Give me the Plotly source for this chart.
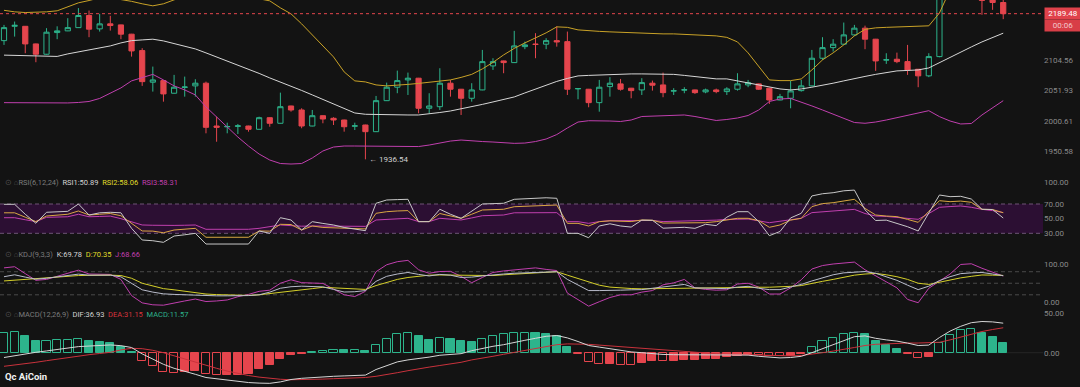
import numpy as np
import plotly.graph_objects as go

# ---------------- data ----------------
open_ = [2140.3, 2166.3, 2166.3, 2134.4, 2115.9, 2154.9, 2158.0, 2163.9, 2186.1, 2161.6,
         2170.8, 2168.9, 2152.0, 2122.4, 2066.6, 2069.4, 2047.5, 2057.5, 2060.2, 2064.9,
         1991.7, 1990.3, 1991.2, 1991.7, 1986.2, 2005.7, 1996.3, 2025.6, 2018.8, 1991.7,
         2009.1, 2004.7, 2001.8, 1991.4, 1993.4, 1982.2, 2034.7, 2057.9, 2070.6, 2073.6,
         2021.7, 2024.4, 2064.9, 2054.4, 2038.8, 2053.2, 2095.2, 2104.0, 2101.0, 2129.5,
         2134.1, 2133.9, 2140.3, 2138.5, 2055.0, 2054.4, 2031.3, 2058.9, 2063.7, 2056.2,
         2053.2, 2064.9, 2061.9, 2051.2, 2052.9, 2053.2, 2049.8, 2053.2, 2050.3, 2054.4,
         2061.9, 2063.7, 2056.2, 2035.9, 2038.8, 2052.0, 2060.2, 2108.8, 2127.7, 2133.9,
         2150.7, 2162.9, 2142.9, 2105.5, 2107.0, 2102.8, 2089.3, 2077.7, 2111.7, 2245.0,
         2256.0, 2243.0, 2229.0, 2218.0, 2210.2]
high = [2168.9, 2175.0, 2166.8, 2135.0, 2162.9, 2166.3, 2181.2, 2199.8, 2195.3, 2189.2,
        2185.5, 2169.3, 2152.5, 2126.7, 2094.0, 2070.0, 2079.4, 2076.4, 2071.8, 2067.6,
        2007.4, 1997.3, 1995.1, 1992.2, 2007.4, 2006.2, 2048.5, 2026.1, 2021.7, 2018.8,
        2009.6, 2006.5, 2002.3, 1997.3, 1993.9, 2042.8, 2065.9, 2086.9, 2083.4, 2074.1,
        2047.5, 2091.1, 2070.6, 2054.9, 2064.9, 2123.6, 2108.8, 2104.5, 2158.0, 2138.5,
        2153.8, 2144.7, 2166.3, 2156.7, 2056.0, 2054.9, 2070.6, 2075.4, 2072.3, 2056.7,
        2073.6, 2069.4, 2083.4, 2056.2, 2057.9, 2053.7, 2055.5, 2055.5, 2057.9, 2082.3,
        2070.6, 2064.2, 2056.7, 2046.3, 2068.9, 2070.6, 2123.6, 2146.5, 2142.9, 2173.2,
        2168.9, 2167.5, 2143.4, 2117.7, 2118.8, 2132.6, 2089.8, 2117.7, 2252.0, 2270.0,
        2274.0, 2258.0, 2236.0, 2226.0, 2216.0]
low = [2132.6, 2147.6, 2117.7, 2101.7, 2115.0, 2142.9, 2157.5, 2163.5, 2146.5, 2156.7,
       2158.5, 2142.9, 2111.7, 2060.2, 2050.3, 2033.0, 2047.0, 2041.6, 2041.6, 1979.5,
       1965.5, 1979.5, 1978.3, 1982.2, 1985.8, 1990.5, 1995.8, 2015.9, 1987.9, 1991.2,
       1996.3, 1993.4, 1982.2, 1985.0, 1936.54, 1981.7, 2034.2, 2047.5, 2044.5, 2013.2,
       2013.2, 2018.8, 2041.6, 2010.3, 2033.0, 2052.7, 2088.1, 2082.3, 2100.5, 2124.9,
       2108.8, 2124.9, 2129.5, 2044.5, 2037.1, 2023.4, 2015.9, 2041.6, 2052.0, 2038.8,
       2044.5, 2052.0, 2040.6, 2044.5, 2047.5, 2046.3, 2047.5, 2047.5, 2044.5, 2052.0,
       2057.9, 2053.2, 2029.1, 2035.4, 2021.7, 2050.3, 2059.7, 2105.8, 2120.6, 2132.6,
       2148.9, 2124.9, 2086.4, 2098.7, 2100.0, 2079.4, 2057.9, 2075.4, 2110.5, 2232.0,
       2238.0, 2221.0, 2187.4, 2196.6, 2179.4]
close = [2163.9, 2168.1, 2134.4, 2115.9, 2155.6, 2158.0, 2163.9, 2186.1, 2161.1, 2170.8,
         2167.7, 2152.0, 2121.8, 2067.6, 2070.6, 2046.3, 2057.9, 2058.3, 2064.9, 1989.5,
         1989.5, 1990.9, 1991.9, 1986.2, 2005.7, 1996.3, 2024.4, 2018.8, 1991.7, 2009.1,
         2003.5, 2001.8, 1990.5, 1992.0, 1982.2, 2034.7, 2057.9, 2069.4, 2073.6, 2021.7,
         2025.6, 2064.9, 2054.4, 2038.8, 2053.2, 2102.8, 2102.8, 2101.0, 2130.8, 2132.6,
         2133.5, 2140.3, 2138.0, 2054.4, 2055.6, 2031.3, 2057.9, 2064.9, 2054.4, 2052.0,
         2065.9, 2061.4, 2048.5, 2051.8, 2053.5, 2048.5, 2053.2, 2050.3, 2054.9, 2063.7,
         2065.9, 2054.4, 2035.9, 2041.6, 2051.5, 2060.2, 2108.8, 2127.7, 2133.9, 2150.7,
         2162.9, 2142.9, 2104.0, 2106.1, 2102.8, 2088.1, 2077.7, 2111.7, 2245.0, 2256.0,
         2243.0, 2229.0, 2214.0, 2210.2, 2189.48]

bb_upper = [2195.7, 2192.9, 2191.6, 2192.0, 2192.9, 2194.8, 2202.2, 2209.6, 2213.9, 2219.0,
            2219.0, 2216.1, 2212.4, 2207.8, 2204.0, 2207.8, 2215.2, 2220.8, 2224.6, 2226.5,
            2226.5, 2224.6, 2220.8, 2217.1, 2217.1, 2213.3, 2200.3, 2189.2, 2170.8, 2150.7,
            2132.6, 2111.1, 2084.6, 2068.9, 2067.1, 2061.9, 2060.2, 2061.0, 2062.8, 2064.5,
            2066.3, 2068.0, 2070.6, 2075.0, 2080.3, 2089.9, 2101.4, 2114.7, 2126.3, 2136.2,
            2145.2, 2154.4, 2165.3, 2164.4, 2159.8, 2158.0, 2157.1, 2156.2, 2155.3, 2154.4,
            2153.4, 2152.5, 2152.5, 2152.5, 2151.6, 2151.6, 2149.9, 2148.9, 2146.2, 2138.0,
            2118.3, 2095.2, 2070.6, 2069.4, 2069.4, 2072.3, 2088.1, 2105.8, 2118.3, 2132.6,
            2148.9, 2160.7, 2163.5, 2164.4, 2165.3, 2166.2, 2166.6, 2167.2, 2190.7, 2234.0,
            2262.7, 2282.2, 2292.1, 2301.9, 2307.7]
bb_mid = [2114.3, 2114.0, 2113.6, 2113.3, 2112.9, 2112.0, 2116.5, 2120.0, 2123.6, 2126.3,
          2130.8, 2136.2, 2140.3, 2141.6, 2142.9, 2139.8, 2135.3, 2130.8, 2125.4, 2118.3,
          2111.1, 2104.0, 2096.1, 2089.0, 2082.0, 2074.1, 2067.1, 2060.2, 2052.3, 2044.6,
          2036.8, 2029.1, 2021.4, 2013.7, 2011.5, 2011.0, 2010.6, 2010.3, 2010.3, 2010.3,
          2012.0, 2014.5, 2017.1, 2020.5, 2024.0, 2028.3, 2032.5, 2036.8, 2041.1, 2048.0,
          2054.9, 2061.9, 2068.0, 2073.2, 2077.6, 2078.5, 2079.4, 2080.3, 2081.1, 2081.1,
          2081.1, 2081.1, 2081.1, 2080.3, 2078.5, 2076.7, 2075.0, 2072.4, 2072.4, 2068.9,
          2065.4, 2061.9, 2057.5, 2054.9, 2053.2, 2054.9, 2057.9, 2061.0, 2064.9, 2068.9,
          2073.2, 2076.7, 2080.3, 2083.7, 2086.4, 2087.2, 2088.1, 2091.6, 2101.0, 2111.1,
          2120.0, 2129.0, 2138.0, 2146.2, 2153.8]
bb_lower = [2031.3, 2031.3, 2030.8, 2030.8, 2030.3, 2030.3, 2030.8, 2031.6, 2033.3, 2038.5,
            2047.2, 2056.7, 2068.9, 2074.1, 2080.3, 2070.6, 2060.2, 2053.2, 2044.6, 2024.0,
            2006.9, 1988.4, 1973.3, 1958.4, 1945.2, 1935.4, 1929.7, 1928.9, 1929.7, 1938.7,
            1950.2, 1956.7, 1958.4, 1958.4, 1958.4, 1957.9, 1957.5, 1957.5, 1957.5, 1957.5,
            1960.0, 1963.3, 1966.6, 1968.3, 1966.6, 1965.8, 1965.0, 1963.8, 1962.8, 1963.3,
            1965.8, 1970.0, 1977.4, 1988.4, 1998.4, 2000.6, 2000.6, 2000.1, 1999.3, 2001.8,
            2007.7, 2008.6, 2009.4, 2010.3, 2010.3, 2007.7, 2004.4, 2001.0, 2002.7, 2005.2,
            2009.4, 2018.8, 2033.3, 2037.6, 2038.5, 2032.5, 2025.7, 2018.8, 2012.0, 2005.2,
            1997.6, 1996.3, 1998.4, 2001.8, 2006.0, 2010.3, 2013.7, 2017.6, 2007.5, 2000.1,
            1995.1, 1995.9, 2010.3, 2022.2, 2034.7]

rsi1 = [69.6, 69.6, 56.0, 43.7, 58.7, 59.0, 60.0, 70.0, 55.0, 58.0,
        58.7, 58.0, 36.8, 20.9, 19.9, 17.7, 26.3, 28.0, 30.0, 15.4,
        15.4, 15.4, 15.4, 15.4, 33.2, 30.0, 51.3, 48.2, 34.5, 45.9,
        43.5, 41.4, 38.0, 36.0, 33.6, 71.0, 75.5, 76.0, 76.4, 45.9,
        45.9, 62.8, 56.0, 50.5, 60.0, 70.0, 70.5, 71.0, 76.4, 77.0,
        78.5, 78.5, 77.8, 30.0, 30.0, 24.0, 40.0, 43.0, 40.0, 38.5,
        48.0, 47.8, 37.0, 37.5, 38.2, 36.8, 42.3, 40.5, 52.0, 59.5,
        59.5, 46.0, 26.8, 32.5, 51.0, 57.3, 81.0, 84.0, 85.4, 88.0,
        89.0, 62.0, 47.5, 48.0, 44.0, 39.0, 33.2, 58.0, 82.3, 80.0,
        80.5, 76.8, 62.8, 62.5, 50.89]
rsi2 = [58.0, 58.0, 52.0, 46.0, 53.6, 54.5, 56.0, 60.5, 55.0, 56.0,
        57.0, 54.0, 43.7, 33.2, 33.0, 30.8, 34.5, 35.5, 36.8, 24.6,
        24.6, 24.6, 24.6, 24.6, 33.2, 33.0, 42.3, 42.0, 34.5, 40.0,
        38.0, 37.5, 37.0, 36.5, 36.0, 57.3, 59.5, 60.5, 61.0, 46.0,
        46.0, 57.0, 54.0, 50.5, 56.0, 61.8, 62.3, 62.8, 66.3, 66.8,
        67.5, 68.6, 68.6, 43.6, 43.6, 40.0, 45.9, 47.0, 46.5, 46.0,
        48.2, 47.8, 44.0, 44.3, 44.5, 44.5, 44.5, 45.9, 48.5, 50.5,
        50.5, 47.3, 38.2, 41.4, 48.0, 50.5, 66.4, 70.5, 71.8, 74.5,
        76.4, 64.0, 55.0, 53.6, 52.8, 49.0, 45.0, 60.0, 74.5, 73.2,
        74.0, 72.3, 62.7, 62.5, 58.06]
rsi3 = [51.3, 51.3, 48.5, 46.0, 51.8, 52.2, 52.6, 56.0, 52.6, 53.0,
        53.5, 50.0, 46.0, 41.4, 41.0, 40.5, 40.8, 41.0, 41.4, 35.5,
        35.5, 35.5, 35.5, 35.5, 36.8, 39.0, 41.4, 40.5, 39.7, 40.0,
        39.8, 39.7, 39.6, 39.5, 39.5, 48.2, 49.0, 50.0, 50.5, 46.0,
        46.0, 50.5, 49.5, 48.2, 51.0, 54.0, 54.5, 55.0, 58.0, 58.0,
        58.2, 58.2, 58.2, 45.9, 45.9, 43.6, 46.0, 47.3, 47.5, 47.8,
        48.2, 47.5, 46.0, 46.3, 46.6, 47.0, 47.3, 48.0, 49.0, 49.5,
        49.5, 47.0, 44.5, 46.5, 48.2, 50.5, 58.2, 59.5, 60.5, 61.8,
        62.7, 57.0, 53.6, 53.0, 52.0, 51.0, 49.1, 57.0, 65.5, 66.5,
        67.3, 65.5, 62.7, 61.0, 58.31]

kdj_k = [67, 72, 66, 60.5, 63, 67, 71, 73.7, 71, 71,
         71, 66.6, 50, 33, 27, 22.5, 21, 20, 18.5, 17.3,
         17.3, 17.3, 17.3, 18, 20, 27, 37, 41, 42.4, 41.5,
         40.6, 34, 27.2, 28, 31, 55, 68, 74, 78, 73,
         69, 73, 71, 65, 66, 69, 72, 74, 76, 77,
         78, 80, 80, 60, 45, 31, 31, 31, 32, 33,
         33.4, 37, 40, 43, 47, 38, 37, 36.5, 36, 40,
         42, 37, 33.4, 33.4, 40, 47, 56, 65, 72, 77,
         79, 80.5, 76, 67, 57.6, 45, 33.4, 42.4, 57, 67,
         75, 77, 78, 74, 69.78]
kdj_d = [56, 58, 60, 63, 64, 66.5, 69, 70, 70.5, 71,
         71, 70, 63, 50, 42, 36, 33, 29, 25.5, 22,
         20.5, 19.5, 18.5, 18.5, 20, 23, 25.5, 29, 33, 36,
         39.5, 38, 36, 34, 34, 44, 53, 60, 65, 68,
         71, 71.5, 71, 70, 70, 69.5, 70, 72, 73.5, 76,
         78, 79.5, 80, 71, 62, 52, 45, 40, 37.5, 36.3,
         35.5, 36, 36.5, 37.5, 38, 38.5, 39, 39.5, 39.7, 39.7,
         39.7, 39.7, 39.7, 40, 42, 44, 50, 55, 60, 66,
         71, 74, 75.5, 72, 67, 60, 50, 47, 53, 59,
         64, 68, 71.5, 71, 70.35]
kdj_j = [90, 93, 75, 57.6, 60, 68, 77, 84, 74, 73,
         73, 60, 18, -1, -6, -7, -1, 4, 9, 2.5,
         4, 6.6, 15, 21, 29, 32, 50, 59, 51.5, 50.5,
         49.6, 35, 20, 15.5, 29, 80, 98, 106, 109.5, 85,
         76, 80.5, 81, 68, 51.4, 65, 78, 82, 85, 88,
         90, 86, 83, 24.5, 8, -9.5, 2, 13, 20, 20,
         27, 31, 46, 51, 60, 38, 34, 32, 33, 48,
         50, 40, 22, 22, 38, 59, 87, 96, 100, 103.3,
         105, 85, 70, 55, 38, 8, -0.6, 37, 55, 74,
         98.8, 100.6, 89, 78, 68.66]

macd_dif = [-6, -3.7, -1.5, 0.5, 2.2, 4, 5.8, 7.6, 8.3, 9,
            9.7, 8.8, 6.5, -1.5, -8, -14.5, -19.5, -23, -27, -31,
            -32.8, -34.6, -36, -37.3, -38, -38.3, -36.5, -33.5, -32, -31,
            -30.3, -29.5, -29, -28.5, -28, -21, -16, -11.5, -9, -7.5,
            -5.5, -3.2, -2.2, -1.2, 2.5, 5.6, 8, 10, 13, 15.5,
            18, 20.5, 21.5, 18.5, 14, 9, 7, 5, 3, 1,
            0, -1.2, -2.2, -2.5, -2.7, -2.8, -3, -3, -3, -3,
            -3, -4.5, -5.5, -6.5, -6, -4.5, 0, 5, 10, 15,
            20, 21, 18, 16, 14.5, 12, 9, 9.5, 19, 27,
            33, 37.5, 39, 38.5, 36.93]
macd_dea = [-17, -15.5, -13.5, -12, -10, -8, -6, -4, -2.5, -1,
            0.5, 3.5, 5.5, 5, 3, 0, -4, -8, -12, -16,
            -19.5, -23, -26, -28.5, -30.5, -32, -33.2, -33.8, -33.8, -33.5,
            -33, -32.5, -32, -31.5, -31, -29.5, -27.5, -25, -22.5, -20,
            -18, -16, -14, -12, -9, -7, -4.5, -2, 0.5, 3,
            5.5, 8, 10, 11, 11, 10.5, 9.5, 8.5, 7.5, 6,
            5, 4, 3, 2, 1, 0, -0.7, -1.3, -1.8, -2.2,
            -2.6, -3, -3.5, -3.9, -4, -3.5, -2, 0, 2, 4,
            6.5, 9, 10.5, 11, 12, 12.1, 12.1, 12.1, 13, 16,
            19.5, 22.5, 26.5, 29, 31.15]
macd_hist = [25, 25.5, 20.7, 14.2, 15.1, 15.3, 15.5, 17.6, 15.1, 13.3,
             12.1, 7.7, 1.3, -10.8, -16.8, -24.5, -24.8, -23.7, -22.4, -26,
             -28, -27.8, -27.5, -26.7, -20.2, -15, -7.3, -3, -2.2, 1.3,
             2.2, 3.4, 3.3, 3.6, 2.6, 9.9, 17.6, 22.8, 25, 20.7,
             16.4, 18.5, 17.6, 14.2, 13.3, 17.6, 21.5, 22.8, 24.1, 25,
             24.5, 23.5, 21.5, 7.7, -1, -11.6, -13.8, -13.5, -15, -15.1,
             -12.5, -10.8, -10.9, -10.7, -9.5, -9.4, -8.2, -7.3, -5.2, -3.9,
             -3, -3.2, -4.3, -4.5, -3.8, -1.5, 7.7, 14.2, 18.5, 22.8,
             25, 23.7, 15.1, 9.9, 4.3, -1, -6.5, -5.2, 12.1, 22,
             28, 30.1, 25, 19.4, 11.57]

price_ticks = [1950.58, 2000.61, 2051.93, 2104.56, 2213.91]
rsi_ticks = [30, 50, 70, 100]
kdj_ticks = [0, 100]
macd_ticks = [0, 50]
last_price = 2189.48
low_mark = 1936.54
low_mark_index = 34
countdown = "00:06"

# ---------------- style / layout constants ----------------
BG = "#131313"
GREEN = "#2db48c"
RED = "#e5454d"
GOLD = "#c9a227"
WHITE_L = "#d6d6d6"
MAGENTA = "#c03fae"
YELLOW = "#d4cf2a"
ORANGE = "#d9a743"
AXIS_TXT = "#8a8a8a"
FONT = "Roboto"

W, H = 1080, 387
RM = 37
PW = W - RM
STEP = 10.63
xr = [-4 / STEP, -4 / STEP + PW / STEP]

n = len(close)
idx = list(range(n))


def py(p):
    return 1 - p / H


def pxp(p):
    return p / PW


fig = go.Figure()

# ---- price panel ----
fig.add_trace(go.Scatter(x=idx, y=bb_upper, mode="lines", line=dict(color=GOLD, width=1), yaxis="y", hoverinfo="skip"))
fig.add_trace(go.Scatter(x=idx, y=bb_mid, mode="lines", line=dict(color=WHITE_L, width=1), yaxis="y", hoverinfo="skip"))
fig.add_trace(go.Scatter(x=idx, y=bb_lower, mode="lines", line=dict(color=MAGENTA, width=1), yaxis="y", hoverinfo="skip"))
fig.add_trace(go.Scatter(x=[xr[0], xr[1]], y=[last_price, last_price], mode="lines",
                         line=dict(color=RED, width=1, dash="3px,3px"), yaxis="y", hoverinfo="skip"))
fig.add_trace(go.Candlestick(
    x=idx, open=open_, high=high, low=low, close=close,
    increasing=dict(line=dict(color=GREEN, width=1), fillcolor=BG),
    decreasing=dict(line=dict(color=RED, width=1), fillcolor=RED),
    whiskerwidth=0, yaxis="y", hoverinfo="skip"))

# ---- RSI panel ----
fig.add_trace(go.Scatter(x=idx, y=rsi3, mode="lines", line=dict(color=MAGENTA, width=1), yaxis="y2", hoverinfo="skip"))
fig.add_trace(go.Scatter(x=idx, y=rsi2, mode="lines", line=dict(color=ORANGE, width=1), yaxis="y2", hoverinfo="skip"))
fig.add_trace(go.Scatter(x=idx, y=rsi1, mode="lines", line=dict(color="#c8c8c8", width=1), yaxis="y2", hoverinfo="skip"))

# ---- KDJ panel ----
fig.add_trace(go.Scatter(x=idx, y=kdj_j, mode="lines", line=dict(color=MAGENTA, width=1), yaxis="y3", hoverinfo="skip"))
fig.add_trace(go.Scatter(x=idx, y=kdj_d, mode="lines", line=dict(color=YELLOW, width=1), yaxis="y3", hoverinfo="skip"))
fig.add_trace(go.Scatter(x=idx, y=kdj_k, mode="lines", line=dict(color="#b9bccb", width=1), yaxis="y3", hoverinfo="skip"))

# ---- MACD panel ----
fills, lines = [], []
for i, h in enumerate(macd_hist):
    prev = macd_hist[i - 1] if i > 0 else 0
    col = GREEN if h >= 0 else RED
    hollow = (h > prev) if h >= 0 else (h < prev)
    fills.append(BG if hollow else col)
    lines.append(col)
fig.add_trace(go.Bar(x=idx, y=macd_hist, width=0.76, yaxis="y4",
                     marker=dict(color=fills, line=dict(color=lines, width=1)), hoverinfo="skip"))
fig.add_trace(go.Scatter(x=idx, y=macd_dea, mode="lines", line=dict(color="#c9323c", width=1), yaxis="y4", hoverinfo="skip"))
fig.add_trace(go.Scatter(x=idx, y=macd_dif, mode="lines", line=dict(color=WHITE_L, width=1), yaxis="y4", hoverinfo="skip"))

# ---- shapes ----
shapes = [
    dict(type="rect", xref="paper", x0=0, x1=1, yref="y2", y0=30, y1=70,
         fillcolor="#2c0f33", line=dict(width=0), layer="below"),
    dict(type="line", xref="paper", x0=0, x1=1, yref="y2", y0=70, y1=70,
         line=dict(color="#6e5476", width=1, dash="4px,3px"), layer="below"),
    dict(type="line", xref="paper", x0=0, x1=1, yref="y2", y0=30, y1=30,
         line=dict(color="#6e5476", width=1, dash="4px,3px"), layer="below"),
]
for v in (80, 50, 20):
    shapes.append(dict(type="line", xref="paper", x0=0, x1=1, yref="y3", y0=v, y1=v,
                       line=dict(color="#4a4a4a", width=1, dash="4px,3px"), layer="below"))
shapes.append(dict(type="line", xref="paper", x0=0, x1=1, yref="y4", y0=0, y1=0,
                   line=dict(color="#262626", width=1), layer="below"))


def axis(domain, rng, ticks, fmt="{:.2f}", log=False):
    d = dict(domain=domain, range=rng, side="right", anchor="x",
             tickvals=ticks, ticktext=[fmt.format(t) for t in ticks],
             showgrid=False, zeroline=False, showline=False, ticks="",
             tickfont=dict(size=8, color=AXIS_TXT, family=FONT), fixedrange=True)
    if log:
        d["type"] = "log"
    return d


# ---- annotations ----
ICON = "<span style='color:#4e4e4e'>⊙ ⌂</span>"
ann = []
ann.append(dict(xref="paper", yref="paper", x=pxp(3), y=py(183), xanchor="left", yanchor="middle",
                showarrow=False, font=dict(size=7.5, family=FONT, color="#7c7c7c"),
                text=(ICON + f"<span style='color:#7c7c7c'>RSI(6,12,24)</span>  "
                      f"<span style='color:#d4d4d4'>RSI1:{rsi1[-1]:.2f}</span>  "
                      f"<span style='color:#e0dc2a'>RSI2:{rsi2[-1]:.2f}</span>  "
                      f"<span style='color:#c23fb0'>RSI3:{rsi3[-1]:.2f}</span>")))
ann.append(dict(xref="paper", yref="paper", x=pxp(3), y=py(254), xanchor="left", yanchor="middle",
                showarrow=False, font=dict(size=7.5, family=FONT, color="#7c7c7c"),
                text=(ICON + f"<span style='color:#7c7c7c'>KDJ(9,3,3)</span>  "
                      f"<span style='color:#d4d4d4'>K:{kdj_k[-1]:.2f}</span>  "
                      f"<span style='color:#e0dc2a'>D:{kdj_d[-1]:.2f}</span>  "
                      f"<span style='color:#c23fb0'>J:{kdj_j[-1]:.2f}</span>")))
ann.append(dict(xref="paper", yref="paper", x=pxp(3), y=py(314), xanchor="left", yanchor="middle",
                showarrow=False, font=dict(size=7.5, family=FONT, color="#7c7c7c"),
                text=(ICON + f"<span style='color:#7c7c7c'>MACD(12,26,9)</span>  "
                      f"<span style='color:#d4d4d4'>DIF:{macd_dif[-1]:.2f}</span>  "
                      f"<span style='color:#d8343d'>DEA:{macd_dea[-1]:.2f}</span>  "
                      f"<span style='color:#2db48c'>MACD:{macd_hist[-1]:.2f}</span>")))
# low marker
ann.append(dict(xref="x", yref="y", x=low_mark_index, y=np.log10(low_mark), xanchor="left", yanchor="middle",
                xshift=2, showarrow=False, text=f"← {low_mark:.2f}",
                font=dict(size=8, family=FONT, color="#d0d0d0")))
# last price tag + countdown
ann.append(dict(xref="paper", yref="y", x=1, y=np.log10(last_price), xanchor="left", yanchor="middle",
                xshift=1, showarrow=False, text=f"{last_price:.2f}", bgcolor="#e0424b",
                width=34, height=9, borderpad=1, align="center",
                font=dict(size=8, family=FONT, color="#ffffff")))
ann.append(dict(xref="paper", yref="y", x=1, y=np.log10(last_price), xanchor="left", yanchor="middle",
                xshift=1, yshift=-12, showarrow=False, text=countdown, bgcolor="#d83e47",
                width=34, height=9, borderpad=1, align="center",
                font=dict(size=8, family=FONT, color="#f3c9cc")))
# logo
ann.append(dict(xref="paper", yref="paper", x=pxp(3), y=py(376), xanchor="left", yanchor="middle",
                showarrow=False, text="<b>Qc AiCoin</b>",
                font=dict(size=9.5, family=FONT, color="#f2f2f2")))

fig.update_layout(
    width=W, height=H,
    margin=dict(l=0, r=RM, t=0, b=0, pad=0),
    paper_bgcolor=BG, plot_bgcolor=BG,
    showlegend=False, bargap=0,
    font=dict(family=FONT, color=AXIS_TXT),
    xaxis=dict(range=xr, visible=False, rangeslider=dict(visible=False), fixedrange=True),
    yaxis=axis([1 - 170 / H, 1], [3.28312, 3.34535], price_ticks, log=True),
    yaxis2=axis([1 - 247 / H, 1 - 172 / H], [11.34, 113.66], rsi_ticks),
    yaxis3=axis([1 - 308 / H, 1 - 247 / H], [-14.29, 144.2], kdj_ticks),
    yaxis4=axis([0, 1 - 308 / H], [-42.875, 55.875], macd_ticks),
    shapes=shapes,
    annotations=ann,
)

fig.write_html("out.html", config={"displayModeBar": False},
               post_script="document.body.style.margin='0';document.body.style.overflow='hidden';")
